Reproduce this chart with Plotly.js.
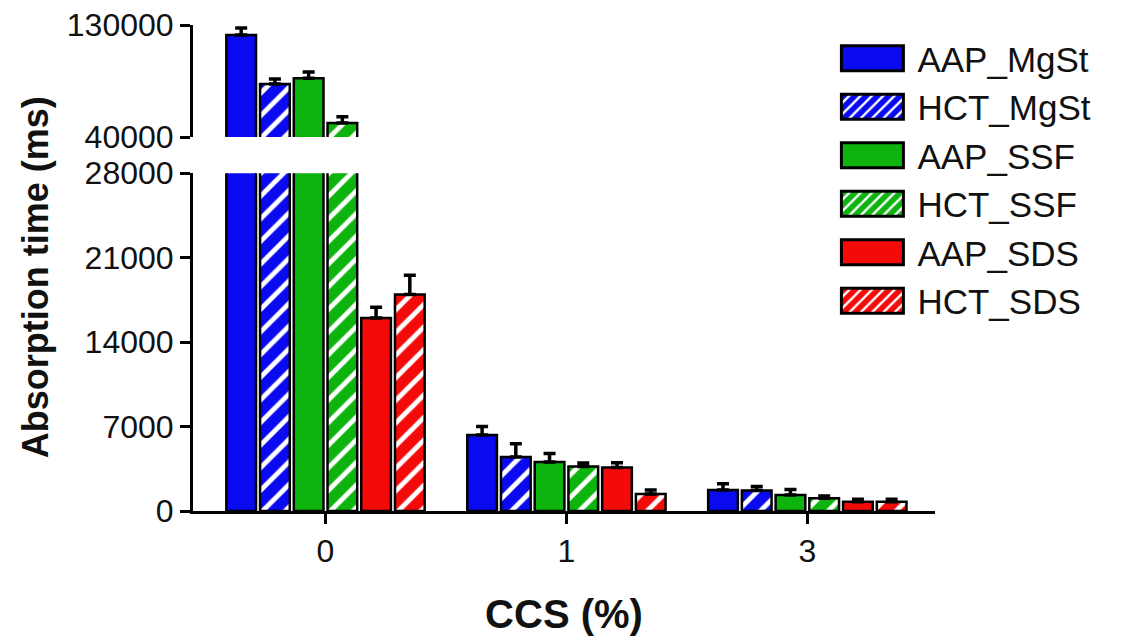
<!DOCTYPE html>
<html>
<head>
<meta charset="utf-8">
<script src="https://cdn.plot.ly/plotly-3.0.1.min.js"></script>
<style>html,body{margin:0;padding:0;background:#fff;}#chart{width:1122px;height:644px;}</style>
</head>
<body>
<div id="chart"></div>
<script>
// ---- data ----
const categories = ['0', '1', '3'];
const seriesNames = ['AAP_MgSt', 'HCT_MgSt', 'AAP_SSF', 'HCT_SSF', 'AAP_SDS', 'HCT_SDS'];
const AAP_MgSt = [122000, 6300, 1750];
const HCT_MgSt = [82600, 4480, 1690];
const AAP_SSF  = [87200, 4070, 1330];
const HCT_SSF  = [51250, 3680, 1050];
const AAP_SDS  = [16000, 3600, 770];
const HCT_SDS  = [17950, 1400, 770];
const err_AAP_MgSt = [5500, 700, 500];
const err_HCT_MgSt = [4000, 1100, 350];
const err_AAP_SSF  = [5000, 700, 450];
const err_HCT_SSF  = [5000, 300, 200];
const err_AAP_SDS  = [900, 400, 200];
const err_HCT_SDS  = [1600, 350, 200];
const lowerTicks = [0, 7000, 14000, 21000, 28000];
const upperTicks = [40000, 130000];

// ---- styles ----
const values = [AAP_MgSt, HCT_MgSt, AAP_SSF, HCT_SSF, AAP_SDS, HCT_SDS];
const errors = [err_AAP_MgSt, err_HCT_MgSt, err_AAP_SSF, err_HCT_SSF, err_AAP_SDS, err_HCT_SDS];
const colors = ['#0a0af0', '#0a0af0', '#0db40d', '#0db40d', '#f50a0a', '#f50a0a'];
const striped = [false, true, false, true, false, true];
const xPos = categories.map((c, i) => i);
const FONT = 'Liberation Sans, Arial, sans-serif';

const traces = [];
seriesNames.forEach((name, i) => {
  ['lower', 'upper'].forEach(panel => {
    const marker = {
      color: colors[i],
      line: {color: '#000', width: 2.5}
    };
    if (striped[i]) {
      marker.pattern = {shape: '/', fgcolor: '#ffffff', bgcolor: colors[i], fillmode: 'replace', size: 16, solidity: 0.3};
    }
    traces.push({
      type: 'bar',
      name: name,
      x: xPos,
      y: values[i],
      xaxis: panel === 'lower' ? 'x' : 'x2',
      yaxis: panel === 'lower' ? 'y' : 'y2',
      legendgroup: name,
      showlegend: panel === 'lower',
      marker: marker,
      error_y: {type: 'data', array: errors[i], arrayminus: errors[i].map(() => 0), symmetric: false,
                color: '#000', thickness: 3.5, width: 6},
      hoverinfo: 'name+y'
    });
  });
});

const lowerTop = 0.695, upperBottom = 0.7695;
const layout = {
  width: 1122, height: 644,
  margin: {l: 193, r: 187, t: 25, b: 133},
  paper_bgcolor: '#fff', plot_bgcolor: '#fff',
  font: {family: FONT, color: '#111', size: 32},
  barmode: 'group', bargap: 0.16, bargroupgap: 0.12,
  showlegend: true,
  legend: {x: 0.855, y: 0.992, xanchor: 'left', yanchor: 'top', font: {size: 35, family: FONT, color: '#111'},
           itemwidth: 80, bgcolor: 'rgba(0,0,0,0)', tracegroupgap: 0},
  xaxis: {
    domain: [0, 1], anchor: 'y', range: [-0.55, 2.53],
    tickvals: xPos, ticktext: categories,
    showline: true, linecolor: '#000', linewidth: 3,
    ticks: 'outside', ticklen: 10, tickwidth: 3, tickcolor: '#000',
    showgrid: false, zeroline: false,
    tickfont: {size: 32},
    title: {text: '<b>CCS (%)</b>', font: {size: 40}, standoff: 32}
  },
  xaxis2: {domain: [0, 1], anchor: 'y2', matches: 'x', visible: false, range: [-0.55, 2.53]},
  yaxis: {
    domain: [0, lowerTop], anchor: 'x', range: [0, 28000],
    tickvals: lowerTicks, ticktext: lowerTicks.map(String),
    showline: true, linecolor: '#000', linewidth: 3,
    ticks: 'outside', ticklen: 10, tickwidth: 3, tickcolor: '#000',
    showgrid: false, zeroline: false, tickfont: {size: 32}
  },
  yaxis2: {
    domain: [upperBottom, 1], anchor: 'x2', range: [40000, 130000],
    tickvals: upperTicks, ticktext: upperTicks.map(String),
    showline: true, linecolor: '#000', linewidth: 3,
    ticks: 'outside', ticklen: 10, tickwidth: 3, tickcolor: '#000',
    showgrid: false, zeroline: false, tickfont: {size: 32}
  },
  annotations: [{
    text: '<b>Absorption time (ms)</b>', textangle: -90,
    xref: 'paper', yref: 'paper', x: -0.213, y: 0.481,
    xanchor: 'center', yanchor: 'middle', showarrow: false,
    font: {size: 36, family: FONT, color: '#111'}
  }]
};

Plotly.newPlot('chart', traces, layout, {staticPlot: true, displayModeBar: false}).then(gd => {
  // enlarge legend swatches to wide rectangles like the original
  gd.querySelectorAll('.legend .legendpoints path').forEach(p => {
    p.setAttribute('d', 'M31,12.5H-31V-12.5H31Z');
    p.style.strokeWidth = '3px';
    p.style.stroke = '#000';
  });
});
</script>
</body>
</html>
